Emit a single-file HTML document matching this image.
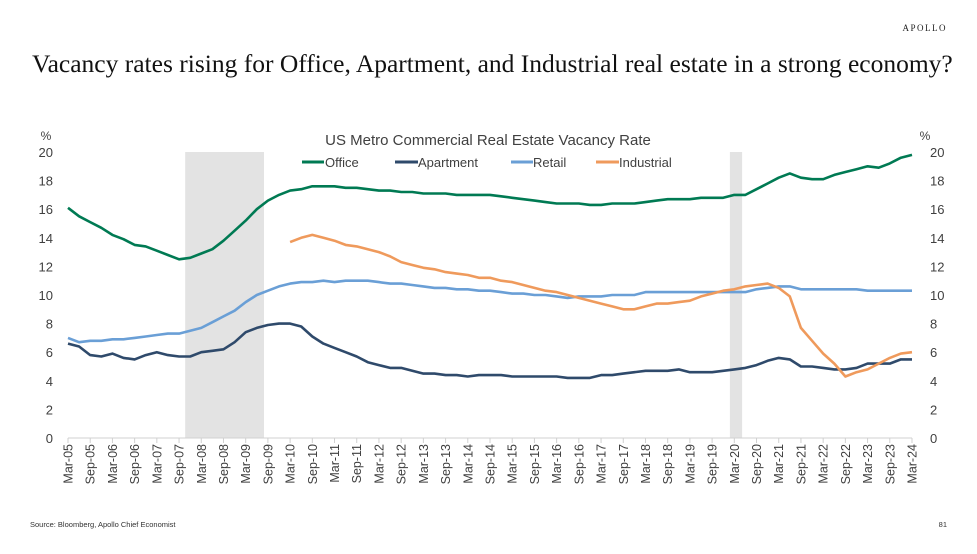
<!DOCTYPE html>
<html><head><meta charset="utf-8"><style>
body{margin:0;background:#fff;width:977px;height:549px;overflow:hidden;font-family:"Liberation Sans",sans-serif}
</style></head><body>
<svg width="977" height="549" xmlns="http://www.w3.org/2000/svg">
<text x="947" y="31" font-family="Liberation Serif,serif" font-size="9" letter-spacing="1.5" text-anchor="end" fill="#222">APOLLO</text>
<text x="32" y="72" font-family="Liberation Serif,serif" font-size="25.5" fill="#111">Vacancy rates rising for Office, Apartment, and Industrial real estate in a strong economy?</text>
<text x="488" y="145" font-size="15" fill="#404040" text-anchor="middle">US Metro Commercial Real Estate Vacancy Rate</text>
<text x="46" y="140" font-size="12" fill="#404040" text-anchor="middle">%</text>
<text x="925" y="140" font-size="12" fill="#404040" text-anchor="middle">%</text>
<g id="shade"></g><g id="axes"></g><g id="lines"></g>
<g>
<line x1="302" y1="162" x2="324" y2="162" stroke="#007a53" stroke-width="3"/><text x="325" y="167" font-size="13" fill="#404040">Office</text>
<line x1="395" y1="162" x2="418" y2="162" stroke="#2f4a6b" stroke-width="3"/><text x="418" y="167" font-size="13" fill="#404040">Apartment</text>
<line x1="511" y1="162" x2="533" y2="162" stroke="#6a9fd6" stroke-width="3"/><text x="533" y="167" font-size="13" fill="#404040">Retail</text>
<line x1="596" y1="162" x2="619" y2="162" stroke="#ef9a5c" stroke-width="3"/><text x="619" y="167" font-size="13" fill="#404040">Industrial</text>
</g>
<text x="30" y="527" font-size="7.5" fill="#333">Source: Bloomberg, Apollo Chief Economist</text>
<text x="947" y="527" font-size="7.5" fill="#333" text-anchor="end">81</text>
</svg>
<script>
const office=[16.1,15.5,15.1,14.7,14.2,13.9,13.5,13.4,13.1,12.8,12.5,12.6,12.9,13.2,13.8,14.5,15.2,16.0,16.6,17.0,17.3,17.4,17.6,17.6,17.6,17.5,17.5,17.4,17.3,17.3,17.2,17.2,17.1,17.1,17.1,17.0,17.0,17.0,17.0,16.9,16.8,16.7,16.6,16.5,16.4,16.4,16.4,16.3,16.3,16.4,16.4,16.4,16.5,16.6,16.7,16.7,16.7,16.8,16.8,16.8,17.0,17.0,17.4,17.8,18.2,18.5,18.2,18.1,18.1,18.4,18.6,18.8,19.0,18.9,19.2,19.6,19.8];
const apartment=[6.6,6.4,5.8,5.7,5.9,5.6,5.5,5.8,6.0,5.8,5.7,5.7,6.0,6.1,6.2,6.7,7.4,7.7,7.9,8.0,8.0,7.8,7.1,6.6,6.3,6.0,5.7,5.3,5.1,4.9,4.9,4.7,4.5,4.5,4.4,4.4,4.3,4.4,4.4,4.4,4.3,4.3,4.3,4.3,4.3,4.2,4.2,4.2,4.4,4.4,4.5,4.6,4.7,4.7,4.7,4.8,4.6,4.6,4.6,4.7,4.8,4.9,5.1,5.4,5.6,5.5,5.0,5.0,4.9,4.8,4.8,4.9,5.2,5.2,5.2,5.5,5.5];
const retail=[7.0,6.7,6.8,6.8,6.9,6.9,7.0,7.1,7.2,7.3,7.3,7.5,7.7,8.1,8.5,8.9,9.5,10.0,10.3,10.6,10.8,10.9,10.9,11.0,10.9,11.0,11.0,11.0,10.9,10.8,10.8,10.7,10.6,10.5,10.5,10.4,10.4,10.3,10.3,10.2,10.1,10.1,10.0,10.0,9.9,9.8,9.9,9.9,9.9,10.0,10.0,10.0,10.2,10.2,10.2,10.2,10.2,10.2,10.2,10.2,10.2,10.2,10.4,10.5,10.6,10.6,10.4,10.4,10.4,10.4,10.4,10.4,10.3,10.3,10.3,10.3,10.3];
const industrial=[null,null,null,null,null,null,null,null,null,null,null,null,null,null,null,null,null,null,null,null,13.7,14.0,14.2,14.0,13.8,13.5,13.4,13.2,13.0,12.7,12.3,12.1,11.9,11.8,11.6,11.5,11.4,11.2,11.2,11.0,10.9,10.7,10.5,10.3,10.2,10.0,9.8,9.6,9.4,9.2,9.0,9.0,9.2,9.4,9.4,9.5,9.6,9.9,10.1,10.3,10.4,10.6,10.7,10.8,10.5,9.9,7.7,6.8,5.9,5.2,4.3,4.6,4.8,5.2,5.6,5.9,6.0];
const yTicks=[0,2,4,6,8,10,12,14,16,18,20];
const recessions=[[10.55,17.65],[59.6,60.7]];
const mons=["Mar","Sep"];
const NS="http://www.w3.org/2000/svg";
const X0=68,X1=912,Y0=438,Y1=152,N=77;
const x=i=>X0+i*(X1-X0)/(N-1);
const y=v=>Y0-v*(Y0-Y1)/20;
function mk(t,a,p){const e=document.createElementNS(NS,t);for(const k in a)e.setAttribute(k,a[k]);p.appendChild(e);return e;}
const sh=document.getElementById('shade'),ax=document.getElementById('axes'),ln=document.getElementById('lines');
recessions.forEach(r=>{const e=mk('rect',{x:x(r[0]),y:Y1,width:x(r[1])-x(r[0]),height:Y0-Y1,fill:'#e3e3e3'},sh);

});
mk('line',{x1:X0,y1:Y0,x2:X1,y2:Y0,stroke:'#d0d0d0','stroke-width':1},ax);
yTicks.forEach(v=>{
const l=mk('text',{x:53,y:y(v)+5,'font-size':13,fill:'#404040','text-anchor':'end'},ax);l.textContent=v;


const r=mk('text',{x:930,y:y(v)+5,'font-size':13,fill:'#404040'},ax);r.textContent=v;

});
for(let i=0;i<N;i+=2){const yr=5+Math.floor(i/4);const lab=mons[(i/2)%2]+'-'+String(yr).padStart(2,'0');
mk('line',{x1:x(i),y1:Y0,x2:x(i),y2:Y0+5,stroke:'#d0d0d0'},ax);
const t=mk('text',{x:0,y:0,'font-size':12.5,fill:'#404040','text-anchor':'end',transform:`translate(${x(i)+4.5},444) rotate(-90)`},ax);t.textContent=lab;

}
function line(d,c,name){let p='';d.forEach((v,i)=>{if(v==null)return;p+=(p?'L':'M')+x(i).toFixed(1)+','+y(v).toFixed(1);});
const e=mk('path',{d:p,fill:'none',stroke:c,'stroke-width':2.6,'stroke-linejoin':'round'},ln);

}
line(retail,'#6a9fd6','retail-line');
line(apartment,'#2f4a6b','apartment-line');
line(industrial,'#ef9a5c','industrial-line');
line(office,'#007a53','office-line');
</script>
</body></html>
